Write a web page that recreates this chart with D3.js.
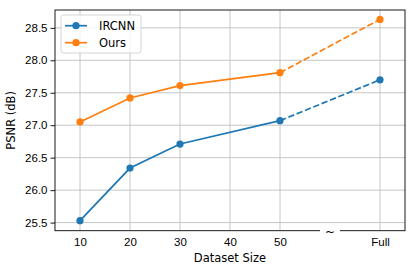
<!DOCTYPE html>
<html>
<head>
<meta charset="utf-8">
<script src="https://cdn.jsdelivr.net/npm/d3@7"></script>
<style>
  body { margin: 0; background: #fff; }
  svg { font-family: "DejaVu Sans", sans-serif; }
</style>
</head>
<body>
<div id="chart"></div>
<script>
const W = 415, H = 272;
const margin = { top: 10, right: 10, bottom: 41.3, left: 55 };
const width = W - margin.left - margin.right,
  height = H - margin.top - margin.bottom;

// data
const tickVals = [10, 20, 30, 40, 50, 70];
const tickLabels = ["10", "20", "30", "40", "50", "Full"];
const sizes = [10, 20, 30, 50, 70];
const ircnn = [25.53, 26.34, 26.71, 27.07, 27.70];
const ours = [27.05, 27.42, 27.61, 27.81, 28.63];
const yTicks = [25.5, 26.0, 26.5, 27.0, 27.5, 28.0, 28.5];

const series = [
  { name: "IRCNN", color: "#1f77b4", values: ircnn },
  { name: "Ours", color: "#ff7f0e", values: ours }
];

const svg = d3.select("#chart").append("svg")
  .attr("width", W).attr("height", H);
const g = svg.append("g")
  .attr("transform", "translate(" + margin.left + "," + margin.top + ")");

const x = d3.scaleLinear().domain([5, 75]).range([0, width]);
const y = d3.scaleLinear().domain([25.375, 28.775]).range([height, 0]);

// grid
g.append("g").selectAll("line").data(tickVals).join("line")
  .attr("x1", d => x(d)).attr("x2", d => x(d))
  .attr("y1", 0).attr("y2", height)
  .attr("stroke", "#c6c6c6").attr("stroke-width", 1);
g.append("g").selectAll("line").data(yTicks).join("line")
  .attr("x1", 0).attr("x2", width)
  .attr("y1", d => y(d)).attr("y2", d => y(d))
  .attr("stroke", "#c6c6c6").attr("stroke-width", 1);

// axes
const xAxis = g.append("g")
  .attr("transform", "translate(0," + height + ")")
  .call(d3.axisBottom(x).tickValues(tickVals)
    .tickFormat((d, i) => tickLabels[i]).tickSize(0).tickPadding(7));
xAxis.select(".domain").remove();
xAxis.selectAll("text").style("font-size", "11.5px").attr("fill", "#000");

const yAxis = g.append("g")
  .call(d3.axisLeft(y).tickValues(yTicks).tickFormat(d3.format(".1f"))
    .tickSize(4.5).tickPadding(3));
yAxis.select(".domain").remove();
yAxis.selectAll("line").attr("stroke", "#000").attr("stroke-width", 0.9);
yAxis.selectAll("text").style("font-size", "11.5px").attr("fill", "#000");

// frame
g.append("rect")
  .attr("width", width).attr("height", height)
  .attr("fill", "none").attr("stroke", "#000").attr("stroke-width", 0.9);

// break marker on the x axis
const bx = x(60);
g.append("rect")
  .attr("x", bx - 10).attr("y", height - 2)
  .attr("width", 20).attr("height", 4)
  .attr("fill", "#fff");
g.append("text")
  .attr("x", bx).attr("y", height + 5)
  .attr("text-anchor", "middle")
  .style("font-size", "12px")
  .text("~");

// lines
const line = d3.line().x(d => x(d[0])).y(d => y(d[1]));
series.forEach(s => {
  const pts = sizes.map((v, i) => [v, s.values[i]]);
  g.append("path").datum(pts.slice(0, 4))
    .attr("d", line).attr("fill", "none")
    .attr("stroke", s.color).attr("stroke-width", 1.7);
  g.append("path").datum(pts.slice(3))
    .attr("d", line).attr("fill", "none")
    .attr("stroke", s.color).attr("stroke-width", 1.7)
    .attr("stroke-dasharray", "6.3,2.7");
  g.append("g").selectAll("circle").data(pts).join("circle")
    .attr("cx", d => x(d[0])).attr("cy", d => y(d[1]))
    .attr("r", 3.6).attr("fill", s.color);
});

// legend
const lg = g.append("g").attr("transform", "translate(6,5)");
lg.append("rect")
  .attr("width", 80).attr("height", 38).attr("rx", 2.5)
  .attr("fill", "#fff").attr("fill-opacity", 0.8)
  .attr("stroke", "#d0d0d0").attr("stroke-width", 0.9);
series.forEach((s, i) => {
  const ly = 10.7 + i * 17;
  lg.append("line")
    .attr("x1", 4).attr("x2", 26).attr("y1", ly).attr("y2", ly)
    .attr("stroke", s.color).attr("stroke-width", 1.7);
  lg.append("circle").attr("cx", 15).attr("cy", ly).attr("r", 3.6).attr("fill", s.color);
  lg.append("text")
    .attr("x", 38).attr("y", ly).attr("dy", "0.36em")
    .style("font-size", "11.5px")
    .text(s.name);
});

// axis titles
svg.append("text")
  .attr("x", margin.left + width / 2).attr("y", 262)
  .attr("text-anchor", "middle")
  .style("font-size", "11.5px")
  .text("Dataset Size");
svg.append("text")
  .attr("transform", "translate(15," + (margin.top + height / 2) + ") rotate(-90)")
  .attr("text-anchor", "middle")
  .style("font-size", "11.5px")
  .text("PSNR (dB)");
</script>
</body>
</html>
